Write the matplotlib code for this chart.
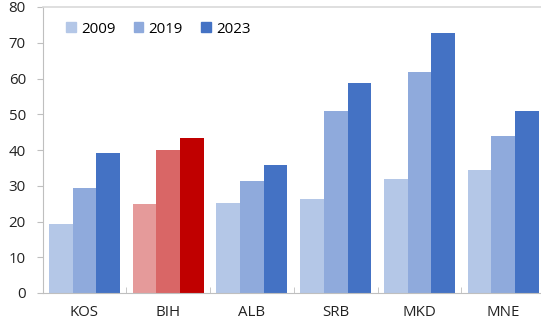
import numpy as np
import matplotlib
matplotlib.use("Agg")
import matplotlib.pyplot as plt
from matplotlib.patches import Patch

countries = ["KOS", "BIH", "ALB", "SRB", "MKD", "MNE"]
years = ["2009", "2019", "2023"]
v2009 = [19.3, 25.0, 25.3, 26.2, 31.8, 34.4]
v2019 = [29.4, 40.0, 31.3, 50.8, 61.9, 43.9]
v2023 = [39.2, 43.3, 35.9, 58.8, 72.7, 50.9]

blues = ["#B4C7E7", "#8FAADC", "#4472C4"]
reds = ["#E59A9A", "#D96666", "#C00000"]
highlight = "BIH"

plt.rcParams["font.family"] = ["Open Sans", "DejaVu Sans"]

fig = plt.figure(figsize=(5.41, 3.23), dpi=100)
ax = fig.add_axes([42.6 / 541, 30 / 323, 502.4 / 541, 286 / 323])

x = np.arange(len(countries))
w = 0.283
for k, vals in enumerate([v2009, v2019, v2023]):
    cols = [reds[k] if c == highlight else blues[k] for c in countries]
    ax.bar(x + (k - 1) * w, vals, width=w, color=cols, edgecolor="none")

ax.set_xlim(-0.5, len(countries) - 0.5)
ax.set_ylim(0, 80)
ax.set_yticks(range(0, 81, 10))
ax.set_xticks(x)
ax.set_xticklabels(countries)
ax.set_xticks(np.arange(0.5, len(countries) - 1, 1), minor=True)
ax.tick_params(axis="x", which="major", length=0, pad=9, labelsize=10.8, colors="#222222")
ax.tick_params(axis="x", which="minor", length=4, direction="in", color="#BFBFBF")
ax.tick_params(axis="y", length=4, color="#BFBFBF", pad=8, labelsize=10.8, labelcolor="#222222")

for s in ["left", "bottom"]:
    ax.spines[s].set_color("#BFBFBF")
ax.spines["top"].set_color("#D9D9D9")
ax.spines["top"].set_linewidth(1.2)
ax.spines["right"].set_visible(False)

handles = [Patch(color=c, label=y) for c, y in zip(blues, years)]
ax.legend(handles=handles, loc="upper left", bbox_to_anchor=(0.035, 0.97), ncol=3,
          frameon=False, fontsize=10.8, handlelength=0.65, handleheight=0.65,
          handletextpad=0.35, columnspacing=1.2, borderaxespad=0)

fig.savefig("out.png", dpi=100)
